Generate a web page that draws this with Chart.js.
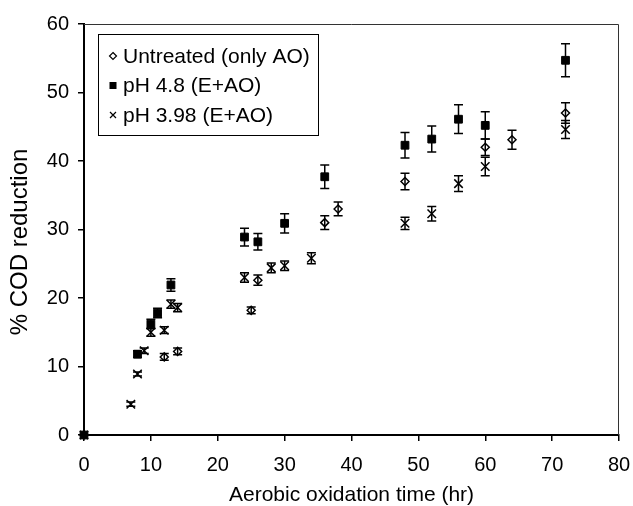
<!DOCTYPE html>
<html>
<head>
<meta charset="utf-8">
<script src="https://cdn.jsdelivr.net/npm/chart.js@4/dist/chart.umd.min.js"></script>
<style>
  html, body { margin: 0; padding: 0; background: #fff; }
  #wrap { width: 633px; height: 506px; }
</style>
</head>
<body>
<div id="wrap"><canvas id="chart"></canvas></div>
<script>
// values
const labels = ["Untreated (only AO)", "pH 4.8 (E+AO)", "pH 3.98 (E+AO)"];

const untreatedX = [0, 12, 14, 25, 26, 36, 38, 48, 60, 64, 72];
const untreatedY = [0, 11.4, 12.2, 18.2, 22.6, 31.0, 33.0, 37.0, 42.0, 43.1, 47.0];
const untreatedErr = [0, 0.5, 0.5, 0.5, 0.75, 1.0, 1.0, 1.2, 1.2, 1.4, 1.5];

const ph48X = [0, 8, 10, 11, 13, 24, 26, 30, 36, 48, 52, 56, 60, 72];
const ph48Y = [0, 11.8, 16.2, 17.8, 21.9, 28.9, 28.2, 30.9, 37.7, 42.3, 43.2, 46.1, 45.2, 54.7];
const ph48Err = [0, 0.5, 0.7, 0.7, 0.9, 1.3, 1.2, 1.4, 1.7, 1.85, 1.9, 2.1, 2.0, 2.4];

const ph398X = [0, 7, 8, 9, 10, 12, 13, 14, 24, 28, 30, 34, 48, 52, 56, 60, 72];
const ph398Y = [0, 4.5, 8.9, 12.3, 15.0, 15.3, 19.1, 18.6, 23.0, 24.4, 24.7, 25.8, 30.9, 32.3, 36.7, 39.2, 44.6];
const ph398Err = [0, 0.3, 0.3, 0.4, 0.6, 0.5, 0.6, 0.6, 0.7, 0.7, 0.7, 0.8, 0.9, 1.05, 1.15, 1.35, 1.3];

const xTitle = "Aerobic oxidation time (hr)";
const yTitle = "% COD reduction";

const FONT = "Arial, 'Liberation Sans', sans-serif";

function pts(xs, ys) {
  return xs.map((x, i) => ({ x: x, y: ys[i] }));
}

// vertical error bars with caps
const errorBars = {
  id: 'errorBars',
  afterDatasetsDraw(chart) {
    const ctx = chart.ctx;
    const ys = chart.scales.y;
    ctx.save();
    ctx.strokeStyle = '#000';
    ctx.lineWidth = 1.5;
    chart.data.datasets.forEach((ds, di) => {
      const meta = chart.getDatasetMeta(di);
      meta.data.forEach((el, i) => {
        const e = ds.errors[i];
        if (!e) return;
        const v = ds.data[i].y;
        const top = ys.getPixelForValue(v + e);
        const bot = ys.getPixelForValue(v - e);
        const x = el.x;
        ctx.beginPath();
        ctx.moveTo(x, top); ctx.lineTo(x, bot);
        ctx.moveTo(x - 4.5, top); ctx.lineTo(x + 4.5, top);
        ctx.moveTo(x - 4.5, bot); ctx.lineTo(x + 4.5, bot);
        ctx.stroke();
      });
    });
    ctx.restore();
  }
};

// frame on top/right, boxed legend, rotated y title
const decorations = {
  id: 'decorations',
  afterDraw(chart) {
    const ctx = chart.ctx;
    const a = chart.chartArea;
    ctx.save();
    ctx.strokeStyle = '#333';
    ctx.lineWidth = 1;
    ctx.beginPath();
    ctx.moveTo(a.left, a.top + 0.5);
    ctx.lineTo(a.right - 0.5, a.top + 0.5);
    ctx.lineTo(a.right - 0.5, a.bottom);
    ctx.stroke();

    // legend box
    const bx = 98.5, by = 34.5, bw = 220, bh = 101;
    ctx.fillStyle = '#fff';
    ctx.fillRect(bx, by, bw, bh);
    ctx.strokeStyle = '#000';
    ctx.strokeRect(bx, by, bw, bh);
    ctx.font = '21px ' + FONT;
    ctx.textBaseline = 'middle';
    ctx.textAlign = 'left';
    chart.data.datasets.forEach((ds, i) => {
      const cy = 56 + i * 29.5;
      const mx = 113;
      ctx.fillStyle = '#000';
      ctx.strokeStyle = '#000';
      ctx.lineWidth = 1.2;
      ctx.beginPath();
      if (ds.pointStyle === 'rectRot') {
        ctx.moveTo(mx, cy - 3.5); ctx.lineTo(mx + 3.5, cy);
        ctx.lineTo(mx, cy + 3.5); ctx.lineTo(mx - 3.5, cy);
        ctx.closePath(); ctx.stroke();
      } else if (ds.pointStyle === 'rect') {
        ctx.fillRect(mx - 3.5, cy - 3.5, 7, 7);
      } else {
        ctx.moveTo(mx - 3, cy - 3); ctx.lineTo(mx + 3, cy + 3);
        ctx.moveTo(mx + 3, cy - 3); ctx.lineTo(mx - 3, cy + 3);
        ctx.stroke();
      }
      ctx.fillText(ds.label, 123, cy + 1);
    });

    // y axis title
    ctx.translate(20, 242);
    ctx.rotate(-Math.PI / 2);
    ctx.textAlign = 'center';
    ctx.font = '24px ' + FONT;
    ctx.fillStyle = '#000';
    ctx.fillText(yTitle, 0, 0);
    ctx.restore();
  }
};

new Chart(document.getElementById('chart'), {
  type: 'scatter',
  data: {
    datasets: [
      {
        label: labels[0],
        data: pts(untreatedX, untreatedY),
        errors: untreatedErr,
        pointStyle: 'rectRot',
        pointRadius: 4,
        backgroundColor: 'rgba(255,255,255,0)',
        borderColor: '#000',
        borderWidth: 1.5,
        clip: false
      },
      {
        label: labels[1],
        data: pts(ph48X, ph48Y),
        errors: ph48Err,
        pointStyle: 'rect',
        pointRadius: 5.5,
        backgroundColor: '#000',
        borderColor: '#000',
        borderWidth: 1,
        clip: false
      },
      {
        label: labels[2],
        data: pts(ph398X, ph398Y),
        errors: ph398Err,
        pointStyle: 'crossRot',
        pointRadius: 6,
        backgroundColor: '#000',
        borderColor: '#000',
        borderWidth: 1.5,
        clip: false
      }
    ]
  },
  options: {
    responsive: true,
    maintainAspectRatio: false,
    animation: false,
    layout: { autoPadding: false, padding: { top: 24, right: 14, left: 0, bottom: 0 } },
    plugins: {
      legend: { display: false },
      tooltip: { enabled: false }
    },
    scales: {
      x: {
        type: 'linear',
        min: 0,
        max: 80,
        ticks: { stepSize: 10, color: '#000', padding: 12, font: { size: 20, family: FONT } },
        grid: { drawOnChartArea: false, drawTicks: true, tickLength: 6, color: '#000', lineWidth: 1.5 },
        border: { color: '#000', width: 2 },
        title: { display: true, text: xTitle, color: '#000', padding: { top: 0, bottom: 0 }, font: { size: 21, family: FONT, lineHeight: 1 } },
        afterFit(scale) {
          scale.height = 71;
          scale.paddingLeft = 0;
          scale.paddingRight = 0;
        }
      },
      y: {
        min: 0,
        max: 60,
        ticks: { stepSize: 10, color: '#000', padding: 9, font: { size: 20, family: FONT } },
        grid: { drawOnChartArea: false, drawTicks: true, tickLength: 6, color: '#000', lineWidth: 1.5 },
        border: { color: '#000', width: 2 },
        afterFit(scale) {
          scale.width = 84;
          scale.paddingTop = 0;
          scale.paddingBottom = 0;
        }
      }
    }
  },
  plugins: [errorBars, decorations]
});
</script>
</body>
</html>
